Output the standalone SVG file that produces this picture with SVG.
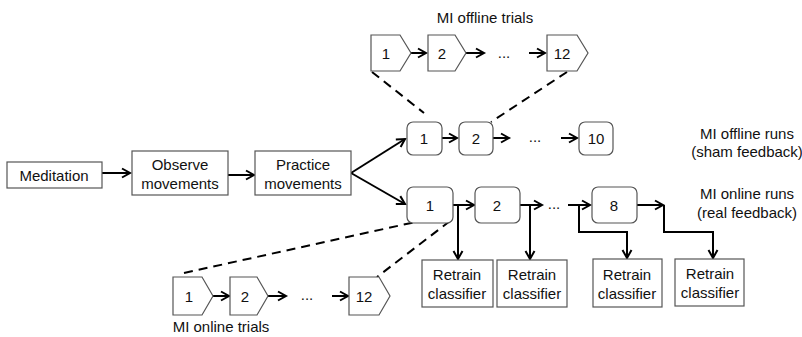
<svg xmlns="http://www.w3.org/2000/svg" width="802" height="337" viewBox="0 0 802 337">
<defs>
<marker id="ah" markerUnits="userSpaceOnUse" markerWidth="12" markerHeight="12" refX="9" refY="5" orient="auto" overflow="visible">
<path d="M1,0.5 L9,5 L1,9.5" fill="none" stroke="#000" stroke-width="2"/>
</marker>
</defs>
<style>
text{font-family:"Liberation Sans",Arial,sans-serif;font-size:15px;fill:#111;text-anchor:middle;dominant-baseline:central}
.box{fill:#fff;stroke:#555;stroke-width:1.2}
.arr{fill:none;stroke:#000;stroke-width:2;marker-end:url(#ah)}
.ln{fill:none;stroke:#000;stroke-width:2}
.dash{fill:none;stroke:#000;stroke-width:2;stroke-dasharray:9,6}
.lbl{font-size:15px}
</style>
<g id="connectors">
<path class="arr" d="M102,173 L130,173"/>
<path class="arr" d="M228,175 L254,175"/>
<path class="arr" d="M351,173 L405,139"/>
<path class="arr" d="M351,173 L405,204"/>
<path class="arr" d="M411,53 L426,53"/>
<path class="arr" d="M466,53 L484,53"/>
<path class="arr" d="M529,53 L545,53"/>
<path class="arr" d="M442,138 L457,138"/>
<path class="arr" d="M493,138 L509,138"/>
<path class="arr" d="M561,138 L577,138"/>
<path class="arr" d="M453,205 L474,205"/>
<path class="arr" d="M458,205 L458,259"/>
<path class="arr" d="M520,205 L542,205"/>
<path class="arr" d="M530,205 L530,259"/>
<path class="arr" d="M568,205 L590,205"/>
<path class="arr" d="M579,205 L579,232 L627,232 L627,258"/>
<path class="arr" d="M637,205 L663,205"/>
<path class="arr" d="M664,205 L664,232 L713,232 L713,258"/>
<path class="arr" d="M213,296 L229,296"/>
<path class="arr" d="M268,296 L286,296"/>
<path class="arr" d="M332,296 L348,296"/>
<path class="dash" d="M372,72 L424,113"/>
<path class="dash" d="M567,72 L491,122"/>
<path class="dash" d="M184,273 L420,221"/>
<path class="dash" d="M450,221 L377,277"/>
</g>
<text x="485" y="17">MI offline trials</text>
<g id="off-trial-1"><path class="box" d="M371,35 H400 L411,53 L400,71 H371 Z"/><text x="386" y="53">1</text></g>
<g id="off-trial-2"><path class="box" d="M428,35 H455 L466,53 L455,71 H428 Z"/><text x="442" y="53">2</text></g>
<text x="504" y="52">...</text>
<g id="off-trial-12"><path class="box" d="M547,35 H577 L588,53 L577,71 H547 Z"/><text x="562" y="53">12</text></g>
<g id="meditation"><rect class="box" x="7" y="162" width="95" height="26"/><text x="54" y="175">Meditation</text></g>
<g id="observe"><rect class="box" x="132" y="151" width="96" height="44"/><text x="180" y="164">Observe</text><text x="180" y="183">movements</text></g>
<g id="practice"><rect class="box" x="255" y="151" width="96" height="44"/><text x="303" y="164">Practice</text><text x="303" y="183">movements</text></g>
<g id="off-run-1"><rect class="box" x="407" y="122" width="35" height="33" rx="6"/><text x="424" y="138">1</text></g>
<g id="off-run-2"><rect class="box" x="459" y="122" width="34" height="33" rx="6"/><text x="476" y="138">2</text></g>
<text x="535" y="136">...</text>
<g id="off-run-10"><rect class="box" x="579" y="122" width="34" height="33" rx="6"/><text x="596" y="138">10</text></g>
<text x="747" y="133">MI offline runs</text>
<text x="747" y="151">(sham feedback)</text>
<g id="on-run-1"><rect class="box" x="407" y="187" width="46" height="36" rx="6"/><text x="430" y="205">1</text></g>
<g id="on-run-2"><rect class="box" x="475" y="187" width="45" height="36" rx="6"/><text x="497" y="205">2</text></g>
<text x="554" y="203">...</text>
<g id="on-run-8"><rect class="box" x="592" y="187" width="45" height="36" rx="6"/><text x="614" y="205">8</text></g>
<text x="747" y="193">MI online runs</text>
<text x="747" y="212">(real feedback)</text>
<g id="retrain-1"><rect class="box" x="422" y="260" width="71" height="47"/><text x="457" y="274">Retrain</text><text x="457" y="293">classifier</text></g>
<g id="retrain-2"><rect class="box" x="497" y="260" width="70" height="47"/><text x="532" y="274">Retrain</text><text x="532" y="293">classifier</text></g>
<g id="retrain-3"><rect class="box" x="593" y="259" width="69" height="48"/><text x="627" y="274">Retrain</text><text x="627" y="293">classifier</text></g>
<g id="retrain-4"><rect class="box" x="675" y="259" width="69" height="47"/><text x="710" y="273">Retrain</text><text x="710" y="292">classifier</text></g>
<g id="on-trial-1"><path class="box" d="M173,277 H202 L213,296 L202,315 H173 Z"/><text x="189" y="296">1</text></g>
<g id="on-trial-2"><path class="box" d="M230,277 H257 L268,296 L257,315 H230 Z"/><text x="245" y="296">2</text></g>
<text x="307" y="294">...</text>
<g id="on-trial-12"><path class="box" d="M349,277 H379 L390,296 L379,315 H349 Z"/><text x="364" y="296">12</text></g>
<text x="221" y="326">MI online trials</text>
</svg>
